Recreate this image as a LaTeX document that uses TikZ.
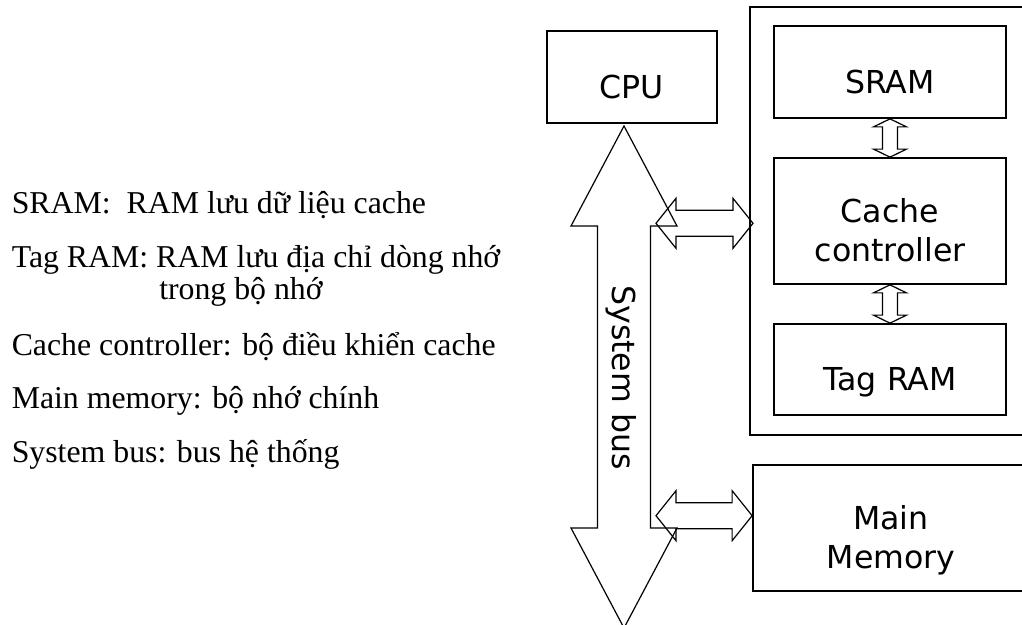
\documentclass[tikz,border=0pt]{standalone}
\usepackage{fontspec}
\setmainfont{Liberation Serif}
\newfontfamily\verdfont{DejaVu Sans}
\usetikzlibrary{calc}
\tikzset{
  box/.style ={rectangle, draw, line width=1.3pt, inner sep=0pt},
  lbl/.style ={font=\verdfont\fontsize{23.7}{29.25}\selectfont, align=center, inner sep=0pt},
  note/.style={font=\fontsize{23.85}{28}\selectfont, anchor=base west, inner sep=0pt},
  % hollow double block arrows, #1 head half width, #2 shaft half width, #3 head length
  hba/.style n args={3}{line width=0.9pt, to path={
      -- ($(\tikztostart)+(#3,-#1)$) -- ($(\tikztostart)+(#3,-#2)$)
      -- ($(\tikztotarget)+(-#3,-#2)$) -- ($(\tikztotarget)+(-#3,-#1)$)
      -- (\tikztotarget)
      -- ($(\tikztotarget)+(-#3,#1)$) -- ($(\tikztotarget)+(-#3,#2)$)
      -- ($(\tikztostart)+(#3,#2)$) -- ($(\tikztostart)+(#3,#1)$) -- cycle}},
  vba/.style n args={3}{line width=0.9pt, to path={
      -- ($(\tikztostart)+(#1,#3)$) -- ($(\tikztostart)+(#2,#3)$)
      -- ($(\tikztotarget)+(#2,-#3)$) -- ($(\tikztotarget)+(#1,-#3)$)
      -- (\tikztotarget)
      -- ($(\tikztotarget)+(-#1,-#3)$) -- ($(\tikztotarget)+(-#2,-#3)$)
      -- ($(\tikztostart)+(-#2,#3)$) -- ($(\tikztostart)+(-#1,#3)$) -- cycle}},
}
\begin{document}
\begin{tikzpicture}[x=0.75pt, y=-0.75pt]
  \useasboundingbox (0,0) rectangle (1022,625);
  \clip (0,0) rectangle (1022,625);
  % legend
  \node[note] (n1) at (11.5,213) {SRAM:\ \ RAM lưu dữ liệu cache};
  \node[note] (n2) at (11.5,267) {Tag RAM: RAM lưu địa chỉ dòng nhớ};
  \node[note] (n2b) at (159,299) {trong bộ nhớ};
  \node[note] (n3) at (11.5,355) {Cache controller: bộ điều khiển cache};
  \node[note] (n4) at (11.5,408) {Main memory: bộ nhớ chính};
  \node[note] (n5) at (11.5,462) {System bus: bus hệ thống};
  % blocks
  \node[box, minimum width=127.5pt, minimum height=69pt] (cpu) at (632,77) {};
  \node[box, minimum width=210pt, minimum height=321pt] (cache) at (890,221) {};
  \node[box, minimum width=174pt, minimum height=69pt] (sram) at (890,72) {};
  \node[box, minimum width=174pt, minimum height=94.5pt] (ctrl) at (890,221) {};
  \node[box, minimum width=174pt, minimum height=68.25pt] (tag) at (890,369.5) {};
  \node[box, minimum width=207pt, minimum height=94.5pt] (mem) at (891,528) {};
  \node[lbl, anchor=base] (cpu-l) at (cpu.center |- 0,98) {CPU};
  \node[lbl, anchor=base] (sram-l) at (sram.center |- 0,93) {SRAM};
  \node[lbl] (ctrl-l) at (ctrl.center |- 0,230.5) {Cache\\controller};
  \node[lbl, anchor=base] (tag-l) at (tag.center |- 0,390) {Tag RAM};
  \node[lbl] (mem-l) at (mem.center |- 0,540.75) {Main\\Memory};
  % system bus
  \coordinate (bus-top) at (624,126);
  \coordinate (bus-bot) at (624,628);
  \draw[vba={53}{26.5}{100}] (bus-top) to (bus-bot);
  \node[lbl, rotate=-90, anchor=base] (bus-l) at (612,377.5) {System bus};
  \coordinate (b1) at (656,223.3);
  \coordinate (c1) at (753,223.3);
  \coordinate (b2) at (656,515.7);
  \draw[hba={25}{13}{20}] (b1) to (c1);
  \draw[hba={25}{13}{20}] (b2) to (b2 -| mem.west);
  \draw[vba={16.5}{7.5}{8}] (sram.south) to (ctrl.north);
  \draw[vba={16.5}{7.5}{8}] (ctrl.south) to (tag.north);
\end{tikzpicture}
\end{document}
